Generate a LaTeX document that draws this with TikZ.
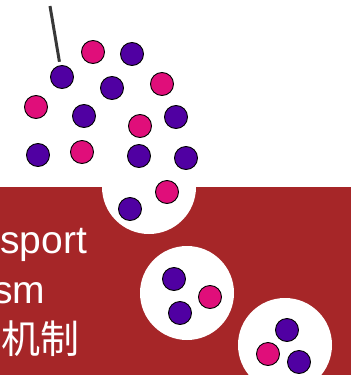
\documentclass[tikz,border=0pt]{standalone}
\usepackage{fontspec}
\setmainfont{Liberation Sans}
\newfontfamily\cjkfont{Noto Sans CJK SC}
\definecolor{bandred}{RGB}{166,38,40}
\definecolor{ionpurple}{RGB}{80,0,162}
\definecolor{ionpink}{RGB}{224,14,122}
\begin{document}
\begin{tikzpicture}[
    x=1pt,
    y=-1pt,
    ion/.style={
        circle,
        draw=black,
        line width=0.9pt,
        inner sep=0pt,
        minimum size=23pt
    },
    purpleion/.style={ion, fill=ionpurple},
    pinkion/.style={ion, fill=ionpink},
    vesicle/.style={
        circle,
        fill=white,
        inner sep=0pt,
        minimum size=94pt
    },
    bandtext/.style={
        anchor=base west,
        inner sep=0pt,
        text=white,
        font=\fontsize{39}{47}\selectfont
    },
    stick/.style={
        line width=3pt,
        draw=black!78,
        shorten >=3.5pt
    }
]

    \useasboundingbox (0,0) rectangle (351,375);
    \clip (0,0) rectangle (351,375);

    % Membrane band
    \fill[bandred] (0,187) rectangle (351,375);

    % Vesicles budding off
    \node[vesicle] (v1) at (149,187) {};
    \node[vesicle] (v2) at (187,293) {};
    \node[vesicle] (v3) at (285,345) {};

    % Purple ions
    \foreach \x/\y [count=\i] in {
        132/54,62/77,112/88,84/116,176/117,38/155,139/156,186/158,
        130/209,174/279,180/313,287/330,299/362
    }{
        \node[purpleion] (m\i) at (\x,\y) {};
    }

    % Pink ions
    \foreach \x/\y [count=\i] in {
        93/52,162/84,36/107,140/126,82/152,167/192,210/297,268/354
    }{
        \node[pinkion] (k\i) at (\x,\y) {};
    }

    % Stick on one ion
    \coordinate (stickend) at (50,6);
    \draw[stick] (stickend) -- (m2);

    % Text on the band
    \node[bandtext] (t1) at (0,253) {sport};
    \node[bandtext] (t2) at (-7,303) {sm};
    \node[bandtext] (t3) at (1,353) {\cjkfont 机制};

\end{tikzpicture}
\end{document}
